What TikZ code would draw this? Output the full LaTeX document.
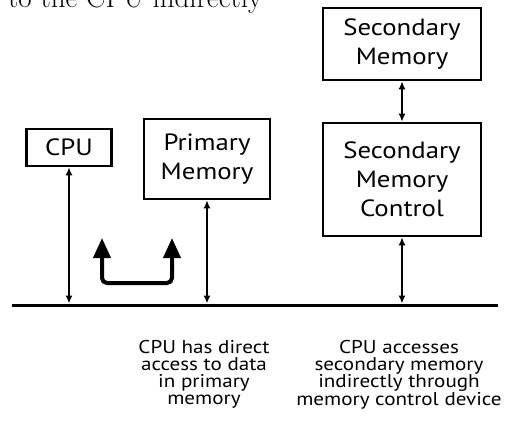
\documentclass[tikz,border=0pt]{standalone}
\usepackage{fontspec}
\newfontfamily\diagfont[FakeStretch=1.14]{PT Sans}
\usetikzlibrary{arrows.meta}

\begin{document}
\begin{tikzpicture}[x=1pt, y=-1pt,
    unit/.style={draw, line width=2.6pt, align=center, inner sep=0pt,
      font=\diagfont\fontsize{23.5}{29}\selectfont},
    link/.style={{Latex[length=8pt,width=7pt]}-{Latex[length=8pt,width=7pt]},
      line width=1.6pt},
    jump/.style={{Triangle[length=20pt,width=17pt]}-{Triangle[length=20pt,width=17pt]},
      line width=4pt, rounded corners=5pt},
    note/.style={align=center, inner sep=0pt,
      font=\diagfont\fontsize{18.5}{17}\selectfont}]

    \useasboundingbox (0,0) rectangle (509,423);

    \node[anchor=base west, inner sep=0pt, font=\fontsize{29}{33}\selectfont]
        (head) at (8,7) {to the CPU indirectly};

    \node[unit, minimum width=85, minimum height=37] (cpu) at (69,147.5) {CPU};
    \node[unit, minimum width=126, minimum height=80] (prim) at (207,159) {Primary\\Memory};
    \node[unit, minimum width=158, minimum height=72] (smem) at (402,44) {Secondary\\Memory};
    \node[unit, minimum width=158, minimum height=113] (sctl) at (402,179.5) {Secondary\\Memory\\Control};

    \coordinate (busL) at (12,305);
    \coordinate (busR) at (498,305);
    \draw[line width=3pt] (busL) -- (busR);

    \draw[link, shorten >=1.5pt] (cpu.south) -- (cpu.south |- busL);
    \draw[link, shorten >=1.5pt] (prim.south) -- (prim.south |- busL);
    \draw[link, shorten >=1.5pt] (sctl.south) -- (sctl.south |- busL);
    \draw[link] (smem.south) -- (sctl.north);

    \coordinate (jumpL) at (102,238);
    \coordinate (jumpR) at (172,238);
    \coordinate (jumpB) at (137,283);
    \draw[jump] (jumpL) -- (jumpL |- jumpB) -- (jumpR |- jumpB) -- (jumpR);

    \node[note, anchor=north] (noteL) at (204,340)
        {CPU has direct\\access to data\\in primary\\memory};
    \node[note, anchor=north] (noteR) at (399,340)
        {CPU accesses\\secondary memory\\indirectly through\\memory control device};
\end{tikzpicture}
\end{document}
